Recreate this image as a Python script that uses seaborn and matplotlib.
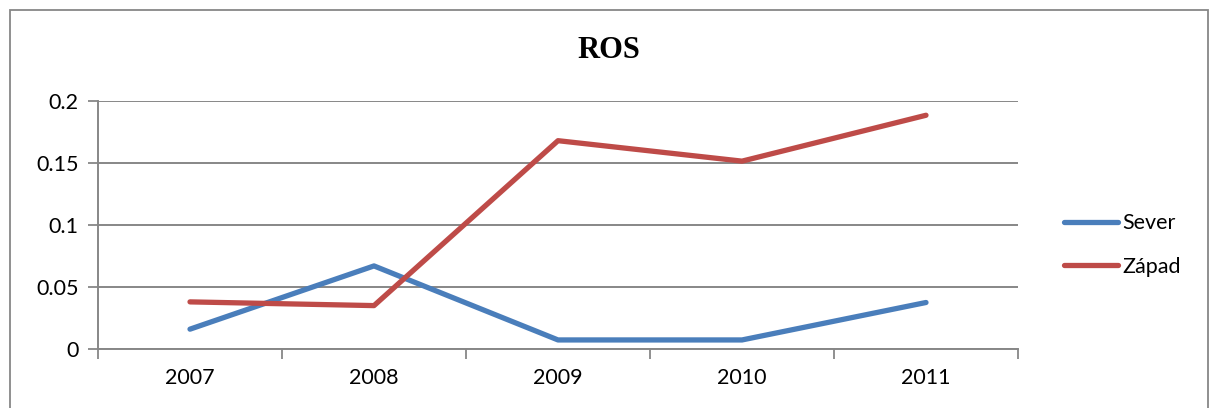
import matplotlib
matplotlib.use("Agg")
import matplotlib.pyplot as plt
import seaborn as sns
import pandas as pd
from matplotlib.patches import Rectangle
from matplotlib.lines import Line2D

years = ["2007", "2008", "2009", "2010", "2011"]
sever = [0.016, 0.067, 0.0073, 0.0073, 0.0375]
zapad = [0.038, 0.035, 0.168, 0.1515, 0.1885]
series_names = ["Sever", "Západ"]
colors = ["#4A7EBB", "#BE4B48"]
yticks = [0, 0.05, 0.1, 0.15, 0.2]
ytick_labels = ["0", "0.05", "0.1", "0.15", "0.2"]

df = pd.DataFrame({
    "year": years * 2,
    "value": sever + zapad,
    "series": [series_names[0]] * len(years) + [series_names[1]] * len(years),
})
df["pos"] = list(range(len(years))) * 2

sns.set_style("white")
plt.rcParams["font.family"] = ["Lato", "DejaVu Sans"]
plt.rcParams["text.color"] = "black"
plt.rcParams["xtick.color"] = "black"
plt.rcParams["ytick.color"] = "black"

fig = plt.figure(figsize=(12.13, 4.08), dpi=100)
ax = fig.add_axes([98 / 1213, 1 - 349 / 408, 920 / 1213, 248 / 408])

sns.lineplot(data=df, x="pos", y="value", hue="series", palette=colors,
             linewidth=3.8, ax=ax, legend=False, solid_capstyle="round")

ax.set_xlim(-0.5, len(years) - 0.5)
ax.set_ylim(0, 0.2)
ax.set_yticks(yticks)
ax.set_yticklabels(ytick_labels, fontsize=15.5)
ax.set_xticks(range(len(years)))
ax.set_xticklabels(years, fontsize=15.5)
ax.set_xticks([i - 0.5 for i in range(len(years) + 1)], minor=True)
ax.tick_params(axis="x", which="major", bottom=False, length=0, pad=14)
ax.tick_params(axis="x", which="minor", bottom=True, length=7, width=1.3, color="#878787")
ax.tick_params(axis="y", which="major", left=True, length=7, width=1.3, color="#878787",
               labelcolor="black", pad=7)
ax.tick_params(axis="x", labelcolor="black")
ax.set_xlabel("")
ax.set_ylabel("")
ax.yaxis.grid(True, color="#878787", linewidth=1.4)
ax.set_axisbelow(True)
for s in ["top", "right"]:
    ax.spines[s].set_visible(False)
for s in ["left", "bottom"]:
    ax.spines[s].set_color("#878787")
    ax.spines[s].set_linewidth(1.4)

fig.text(609 / 1213, 1 - 50 / 408, "ROS", ha="center", va="center", color="black",
         fontsize=22, fontweight="bold", family=["Liberation Serif", "DejaVu Serif"])

handles = [Line2D([0], [0], color=c, linewidth=3.8, solid_capstyle="round") for c in colors]
leg = fig.legend(handles, series_names, loc="center left",
                 bbox_to_anchor=(1045 / 1213, 1 - 245 / 408), frameon=False,
                 fontsize=15.5, handlelength=2.5, handletextpad=0.2, labelspacing=1.1)
for t in leg.get_texts():
    t.set_color("black")

fig.patches.append(Rectangle((10 / 1213, -0.05), 1198 / 1213, 1.05 - 10 / 408,
                             transform=fig.transFigure, fill=False,
                             edgecolor="#878787", linewidth=1.3))

fig.savefig("out.png", dpi=100)
